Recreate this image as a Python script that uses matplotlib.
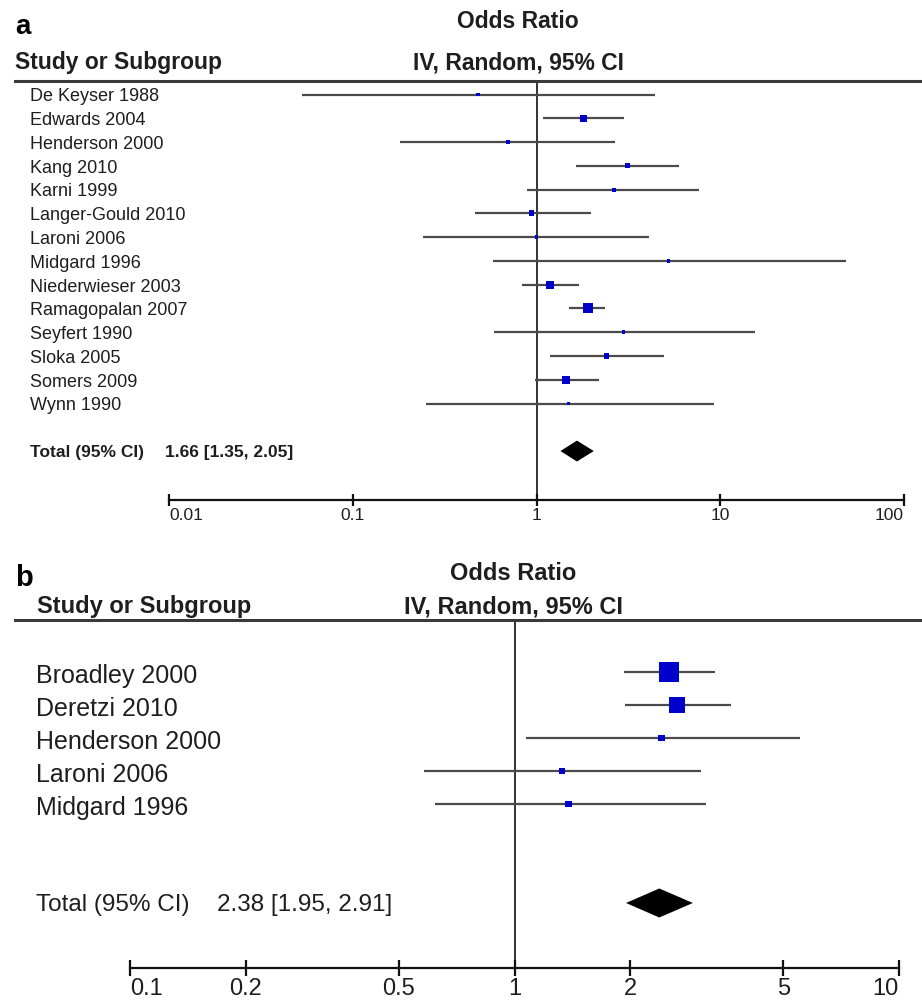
import numpy as np
import matplotlib
matplotlib.use("Agg")
import matplotlib.pyplot as plt
from matplotlib.lines import Line2D
from matplotlib.transforms import blended_transform_factory

plt.rcParams['font.family'] = ['Liberation Sans', 'DejaVu Sans']

# panel a data
studies_a = ['De Keyser 1988', 'Edwards 2004', 'Henderson 2000', 'Kang 2010', 'Karni 1999',
             'Langer-Gould 2010', 'Laroni 2006', 'Midgard 1996', 'Niederwieser 2003',
             'Ramagopalan 2007', 'Seyfert 1990', 'Sloka 2005', 'Somers 2009', 'Wynn 1990']
or_a = [0.48, 1.80, 0.70, 3.13, 2.63, 0.94, 1.00, 5.23, 1.18, 1.90, 2.97, 2.40, 1.44, 1.49]
lo_a = [0.053, 1.08, 0.18, 1.65, 0.89, 0.46, 0.24, 0.58, 0.83, 1.51, 0.59, 1.19, 0.98, 0.25]
hi_a = [4.39, 3.01, 2.69, 6.00, 7.70, 1.97, 4.07, 48.1, 1.71, 2.37, 15.4, 4.92, 2.18, 9.2]
weights_a = [1.2, 11, 2.2, 6.5, 3.5, 8, 1.5, 1.2, 16.5, 24, 1.4, 6.5, 15, 1.5]
total_a = (1.66, 1.35, 2.05)
ticks_a = [0.01, 0.1, 1, 10, 100]
ticklabels_a = ['0.01', '0.1', '1', '10', '100']

# panel b data
studies_b = ['Broadley 2000', 'Deretzi 2010', 'Henderson 2000', 'Laroni 2006', 'Midgard 1996']
or_b = [2.53, 2.65, 2.41, 1.33, 1.38]
lo_b = [1.93, 1.94, 1.07, 0.58, 0.62]
hi_b = [3.33, 3.65, 5.54, 3.06, 3.14]
weights_b = [52, 34, 5, 4.5, 4.5]
total_b = (2.38, 1.95, 2.91)
ticks_b = [0.1, 0.2, 0.5, 1, 2, 5, 10]
ticklabels_b = ['0.1', '0.2', '0.5', '1', '2', '5', '10']

W, H = 922, 1002
fig = plt.figure(figsize=(W / 100, H / 100), dpi=100)
TXT = '#1e1e1e'
BLUE = '#0000cc'


def fx(px):
    return px / W


def fy(py):
    return 1 - py / H


def panel(rect_px, ylim, studies, ors, los, his, weights, total, ticks, ticklabels,
          side_min, side_max, fs_tick, tick_len, header_y, total_row, half_h):
    x0, y0, x1, y1 = rect_px
    ax = fig.add_axes([fx(x0), fy(y1), fx(x1) - fx(x0), (y1 - y0) / H])
    ax.set_xscale('log')
    ax.set_xlim(ticks[0], ticks[-1])
    ax.set_ylim(*ylim)
    for s in ['left', 'right', 'top']:
        ax.spines[s].set_visible(False)
    ax.spines['bottom'].set_linewidth(1.6)
    ax.spines['bottom'].set_color('#111111')
    ax.set_yticks([])
    ax.set_xticks(ticks)
    ax.set_xticklabels(ticklabels)
    ax.minorticks_off()
    ax.tick_params(axis='x', direction='inout', length=tick_len, width=1.6,
                   colors='#111111', labelsize=fs_tick, labelcolor=TXT, pad=1.5)
    labs = ax.get_xticklabels()
    labs[0].set_ha('left')
    labs[-1].set_ha('right')
    ax.axvline(1, color='#333333', lw=1.4, zorder=1)

    rows = np.arange(len(studies))
    ax.hlines(rows, los, his, color='#4a4a4a', lw=1.6, zorder=2)
    w = np.array(weights, dtype=float)
    side_px = np.maximum(side_min, side_max * np.sqrt(w / w.max()))
    ax.scatter(ors, rows, s=(side_px * 0.72) ** 2, marker='s', color=BLUE, lw=0, zorder=3)

    est, lo, hi = total
    ax.fill([lo, est, hi, est], [total_row, total_row - half_h, total_row, total_row + half_h],
            color='black', lw=0, zorder=3)

    fig.add_artist(Line2D([fx(15), 1], [fy(header_y), fy(header_y)], color='#3a3a3a', lw=2.2))
    trans = blended_transform_factory(fig.transFigure, ax.transData)
    return ax, trans, rows


# ---- panel a ----
ax_a, tr_a, rows_a = panel((169, 81, 904, 500), (17.06, -0.57), studies_a, or_a, lo_a, hi_a,
                           weights_a, total_a, ticks_a, ticklabels_a, 3.5, 10, 12.5, 9, 81, 15, 0.44)
for r, name in zip(rows_a, studies_a):
    ax_a.text(fx(30), r + 0.1, name, transform=tr_a, ha='left', va='center', fontsize=13, color=TXT)
ax_a.text(fx(30), 15.05, 'Total (95% CI)', transform=tr_a, ha='left', va='center',
          fontsize=12.5, fontweight='bold', color=TXT)
ax_a.text(fx(165), 15.05, '%.2f [%.2f, %.2f]' % total_a, transform=tr_a, ha='left', va='center',
          fontsize=12.5, fontweight='bold', color=TXT)
fig.text(fx(15), fy(27), 'a', ha='left', va='center', fontsize=20, fontweight='bold', color='black')
fig.text(fx(15), fy(63), 'Study or Subgroup', ha='left', va='center', fontsize=16.5,
         fontweight='bold', color=TXT)
fig.text(fx(518), fy(22), 'Odds Ratio', ha='center', va='center', fontsize=16.5,
         fontweight='bold', color=TXT)
fig.text(fx(518), fy(63), 'IV, Random, 95% CI', ha='center', va='center', fontsize=16.5,
         fontweight='bold', color=TXT)

# ---- panel b ----
ax_b, tr_b, rows_b = panel((130, 620, 899, 968), (8.97, -1.576), studies_b, or_b, lo_b, hi_b,
                           weights_b, total_b, ticks_b, ticklabels_b, 6.5, 20, 17, 12, 620, 7, 0.44)
for r, name in zip(rows_b, studies_b):
    ax_b.text(fx(36), r + 0.12, name, transform=tr_b, ha='left', va='center', fontsize=18, color=TXT)
ax_b.text(fx(36), 7.05, 'Total (95% CI)', transform=tr_b, ha='left', va='center',
          fontsize=17.5, color=TXT)
ax_b.text(fx(217), 7.05, '%.2f [%.2f, %.2f]' % total_b, transform=tr_b, ha='left', va='center',
          fontsize=17.5, color=TXT)
fig.text(fx(15), fy(578), 'b', ha='left', va='center', fontsize=21, fontweight='bold', color='black')
fig.text(fx(37), fy(607), 'Study or Subgroup', ha='left', va='center', fontsize=17,
         fontweight='bold', color=TXT)
fig.text(fx(513), fy(573), 'Odds Ratio', ha='center', va='center', fontsize=17,
         fontweight='bold', color=TXT)
fig.text(fx(513), fy(607), 'IV, Random, 95% CI', ha='center', va='center', fontsize=17,
         fontweight='bold', color=TXT)

fig.savefig('out.png', dpi=100)
